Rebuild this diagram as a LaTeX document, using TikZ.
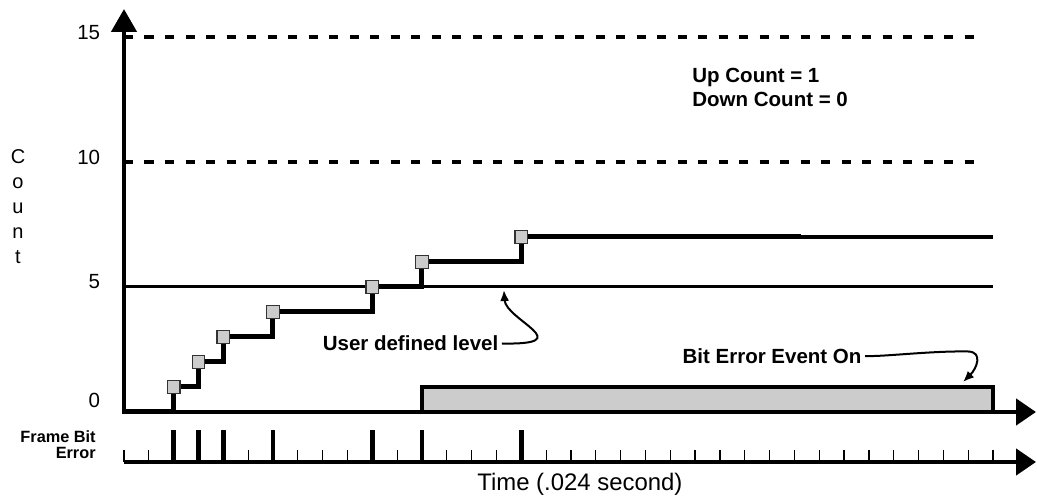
\documentclass[tikz,border=0pt]{standalone}
\usepackage{fontspec}
\setmainfont{Liberation Sans}
\usepackage{tikz}
\usetikzlibrary{arrows.meta}
\definecolor{markgray}{HTML}{CCCCCC}

\begin{document}
\begin{tikzpicture}[x=24.83pt,y=25pt,
    font=\fontsize{20.5}{24}\selectfont,
    axis/.style={line width=4.5pt,line join=miter},
    dashlevel/.style={line width=3.5pt,dash pattern=on 9pt off 11.5pt},
    userlevel/.style={line width=3pt},
    stairs/.style={line width=5pt,line join=miter},
    marker/.style={draw=black!80,fill=markgray,line width=1.2pt,minimum size=12.5pt,inner sep=0pt},
    evbar/.style={draw,fill=markgray,line width=3.5pt},
    smalltick/.style={line width=1.2pt},
    errtick/.style={line width=4.5pt},
    note/.style={font=\fontsize{20.5}{24}\selectfont\bfseries},
    pointer/.style={line width=2pt,-{Latex[length=11pt,width=9pt]}}]
  \useasboundingbox (-124pt,-91pt) rectangle (913pt,412pt);

  \draw[dashlevel] (0,15) -- (34.5,15);
  \draw[dashlevel] (0,10) -- (34.5,10);
  \draw[userlevel] (0,5) -- (35,5);
  \draw[evbar] (12,0) rectangle (35,1);

  \foreach \i/\t in {1/2,2/3,3/4,4/6,5/10,6/12,7/16}
    \coordinate (s\i) at (\t,\i);
  \coordinate (s8) at (27.27,7);
  \coordinate (send) at (35,7);
  \draw[stairs] (0,0) -| (s1) -| (s2) -| (s3) -| (s4) -| (s5) -| (s6) -| (s7) -- (s8);
  \draw[line width=4pt] (s8) -- (send);
  \foreach \i in {1,...,7}
    \node[marker] (sq\i) at (s\i) {};

  \draw[axis,{Triangle[length=23pt,width=25pt]}-{Triangle[length=20pt,width=26pt]}]
    (0,16.12) -- (0,0) -- (36.73,0);
  \draw[axis,-{Triangle[length=20pt,width=26pt]}] (0,-2) -- (36.73,-2);
  \foreach \k in {0,...,35}
    \draw[smalltick] (\k,-2) -- ++(0,0.48);
  \foreach \k in {2,3,4,6,10,12,16}
    \draw[errtick] (\k,-2) -- ++(0,1.28);

  \node[anchor=east] (n15) at (-0.82,15.16) {15};
  \node[anchor=east] (n10) at (-0.82,10.2) {10};
  \node[anchor=east] (n5) at (-0.82,5.22) {5};
  \node[anchor=east] (n0) at (-0.82,0.48) {0};
  \node[align=center,font=\fontsize{20}{25}\selectfont] (ylabel) at (-4.27,8.2) {C\\o\\u\\n\\t};
  \node[font=\fontsize{23.9}{28}\selectfont] (xlabel) at (18.36,-2.88) {Time (.024 second)};
  \node[anchor=east,align=right,font=\fontsize{16.3}{16}\selectfont\bfseries] (errlabel) at (-1.0,-1.3) {Frame Bit\\Error};

  \node[note,anchor=west,align=left] (counts) at (22.75,13.0) {Up Count = 1\\Down Count = 0};
  \node[note] (userlabel) at (11.54,2.74) {User defined level};
  \node[note] (eventlabel) at (26.1,2.24) {Bit Error Event On};

  \coordinate (userpt) at (15.3,4.88);
  \coordinate (eventpt) at (33.79,1.2);
  \draw[pointer] (userlabel.east) .. controls (18.36,2.68) and (15.38,3.68) .. (userpt);
  \draw[pointer] (eventlabel.east) .. controls (30.5,2.2) and (32.5,2.45) .. (34.0,2.42)
    .. controls (34.6,2.4) and (34.35,1.75) .. (eventpt);
\end{tikzpicture}
\end{document}
